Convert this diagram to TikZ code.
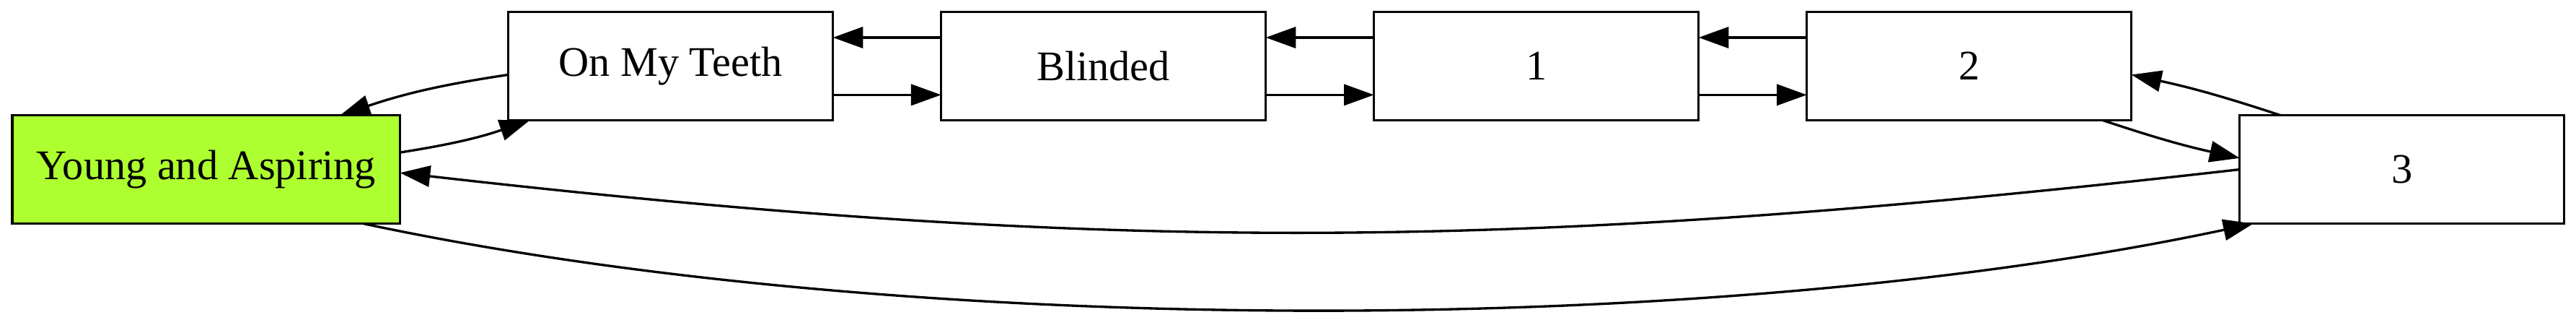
\documentclass[tikz,border=0pt]{standalone}
\usepackage{fontspec}
\setmainfont{Liberation Serif}
\usetikzlibrary{positioning,arrows.meta}
\definecolor{aspire}{HTML}{ADFF2F}

\begin{document}
\begin{tikzpicture}[node distance={36pt}, line width=0.8pt, >={Triangle[length=10pt,width=7pt]},
	song/.style = {draw, rectangle, outer sep=0pt, minimum width=108pt, minimum height=36pt, font=\fontsize{14pt}{16pt}\selectfont}]
		\useasboundingbox (-68.6pt,-49.8pt) rectangle (788.4pt,56.3pt);
		\node[song, minimum width=129pt, fill=aspire] (young) {Young and Aspiring};
		\node[song] (teeth) [above right=-1.7pt and 36pt of young] {On My Teeth};
		\node[song] (blinded) [right=of teeth] {Blinded};
		\node[song] (one) [right=of blinded] {1};
		\node[song] (two) [right=of one] {2};
		\node[song] (three) [below right=-1.7pt and 36pt of two] {3};
		\draw[->] (young.5) to[bend right=5] (teeth.201);
		\draw[->] (teeth.183) to[bend right=5] (young.22.5);
		\draw[->] (teeth.-10) -- (blinded.190);
		\draw[->] (blinded.170) -- (teeth.10);
		\draw[->] (blinded.-10) -- (one.190);
		\draw[->] (one.170) -- (blinded.10);
		\draw[->] (one.-10) -- (two.190);
		\draw[->] (two.170) -- (one.10);
		\draw[->] (two.-22) to[bend right=3] (three.176);
		\draw[->] (three.156) to[bend right=3] (two.-3);
		\draw[->] (three.west) to[out=186.5, in=-6.5] (young.-1);
		\draw[->] (young.-19) to[out=-12, in=192, looseness=0.75] (three.200);
	\end{tikzpicture}
\end{document}
